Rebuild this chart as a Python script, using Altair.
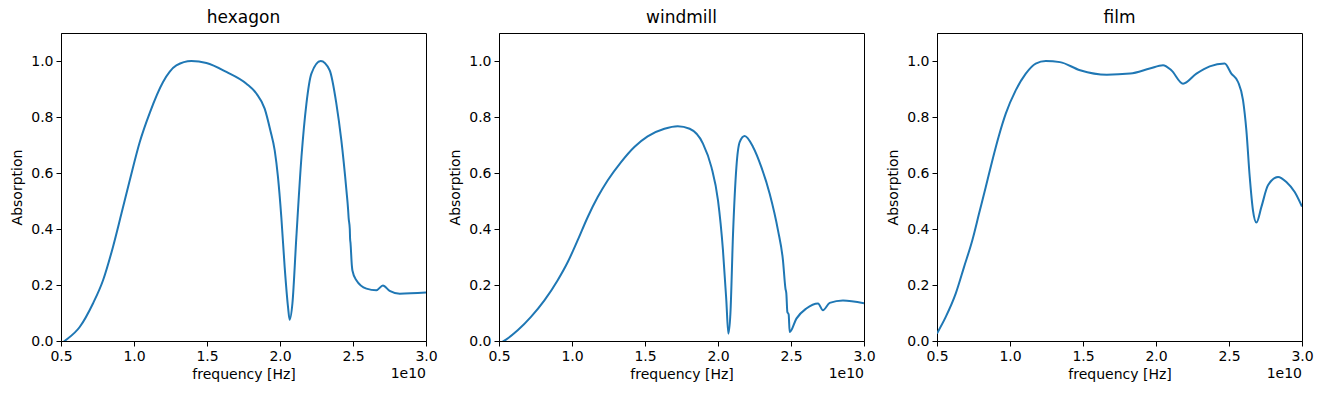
import altair as alt
import pandas as pd

# frequency in units of 1e10 Hz
hex_f = [0.50, 0.525, 0.628, 0.719, 0.788, 0.856, 0.914, 0.971, 1.039, 1.108, 1.199,
         1.245, 1.29, 1.393, 1.496, 1.633, 1.77, 1.838, 1.895, 1.934, 1.964, 1.986,
         2.009, 2.032, 2.055, 2.066, 2.085, 2.112, 2.147, 2.181, 2.215, 2.279,
         2.34, 2.386, 2.42, 2.455, 2.466, 2.470, 2.478, 2.480, 2.483, 2.492,
         2.496, 2.523, 2.592, 2.66, 2.705, 2.751, 2.82, 3.0]
hex_a = [-0.01, 0.0, 0.05, 0.134, 0.217, 0.336, 0.455, 0.574, 0.71, 0.815, 0.925,
         0.962, 0.984, 1.0, 0.993, 0.961, 0.919, 0.884, 0.83, 0.752, 0.68, 0.586,
         0.443, 0.264, 0.121, 0.076, 0.134, 0.371, 0.657, 0.848, 0.955, 1.0,
         0.967, 0.848, 0.717, 0.538, 0.473, 0.44, 0.40, 0.366, 0.35, 0.27,
         0.252, 0.217, 0.187, 0.181, 0.198, 0.179, 0.169, 0.173]

wind_f = [0.50, 0.548, 0.628, 0.719, 0.811, 0.902, 0.971, 1.039, 1.108, 1.176, 1.245,
          1.336, 1.427, 1.518, 1.633, 1.724, 1.806, 1.897, 1.955, 2.0, 2.034,
          2.057, 2.071, 2.085, 2.103, 2.126, 2.149, 2.183, 2.24, 2.297, 2.354,
          2.411, 2.445, 2.462, 2.468, 2.475, 2.484, 2.491, 2.537, 2.605, 2.685,
          2.719, 2.765, 2.856, 3.0]
wind_a = [-0.01, 0.005, 0.038, 0.086, 0.145, 0.217, 0.282, 0.36, 0.443, 0.514, 0.574,
          0.639, 0.693, 0.731, 0.758, 0.767, 0.758, 0.705, 0.621, 0.502, 0.324,
          0.145, 0.026, 0.098, 0.383, 0.621, 0.711, 0.732, 0.693, 0.621, 0.526,
          0.395, 0.288, 0.187, 0.17, 0.104, 0.095, 0.032, 0.08, 0.116, 0.134,
          0.11, 0.136, 0.145, 0.135]

film_f = [0.50, 0.56, 0.628, 0.685, 0.742, 0.788, 0.834, 0.879, 0.925, 0.971, 1.039,
          1.108, 1.176, 1.245, 1.342, 1.48, 1.663, 1.823, 1.957, 2.048, 2.105,
          2.185, 2.277, 2.368, 2.47, 2.516, 2.562, 2.596, 2.619, 2.642, 2.664,
          2.688, 2.722, 2.767, 2.836, 2.893, 2.95, 3.0]
film_a = [0.027, 0.086, 0.169, 0.264, 0.36, 0.455, 0.55, 0.645, 0.735, 0.812, 0.895,
          0.955, 0.991, 1.0, 0.996, 0.967, 0.951, 0.955, 0.973, 0.985, 0.967,
          0.919, 0.955, 0.981, 0.991, 0.955, 0.925, 0.86, 0.752, 0.586, 0.467,
          0.423, 0.479, 0.556, 0.586, 0.568, 0.532, 0.48]

titles = ["hexagon", "windmill", "film"]
series = [(hex_f, hex_a), (wind_f, wind_a), (film_f, film_a)]
x_ticks = [0.5, 1.0, 1.5, 2.0, 2.5, 3.0]
y_ticks = [0.0, 0.2, 0.4, 0.6, 0.8, 1.0]

W, H = 365, 308
FONT = "DejaVu Sans"

def panel(name, f, a):
    df = pd.DataFrame({"f": f, "a": a})
    line = alt.Chart(df).mark_line(color="#1f77b4", strokeWidth=2, clip=True,
                                   interpolate="monotone").encode(
        x=alt.X("f:Q", scale=alt.Scale(domain=[0.5, 3.0], nice=False, zero=False),
                axis=alt.Axis(values=x_ticks, format=".1f", title="frequency [Hz]",
                              labelFlush=False, labelOverlap=False, titlePadding=4)),
        y=alt.Y("a:Q", scale=alt.Scale(domain=[0, 1.1], nice=False, zero=False),
                axis=alt.Axis(values=y_ticks, format=".1f", title="Absorption",
                              labelOverlap=False, titlePadding=6)),
    )
    off = alt.Chart(pd.DataFrame({"t": ["1e10"]})).mark_text(
        align="right", baseline="middle", fontSize=14, font=FONT, color="black"
    ).encode(x=alt.value(W), y=alt.value(H + 33), text="t:N")
    return alt.layer(line, off).properties(
        width=W, height=H,
        title=alt.TitleParams(name, fontSize=17, font=FONT, fontWeight="normal",
                              color="black", offset=6),
    )

chart = alt.hconcat(*[panel(t, f, a) for t, (f, a) in zip(titles, series)],
                    spacing=73, bounds="flush").properties(
    padding={"left": 2, "top": 0, "right": 0, "bottom": 0},
).configure_view(stroke="black", strokeWidth=1).configure_axis(
    grid=False, domainColor="black", domainWidth=1, tickColor="black", tickSize=5,
    tickWidth=1, labelFontSize=14, titleFontSize=14, labelFont=FONT, titleFont=FONT,
    labelColor="black", titleColor="black", titleFontWeight="normal", labelPadding=3,
)

chart.save("out.html", embed_options={"renderer": "svg", "actions": False})
